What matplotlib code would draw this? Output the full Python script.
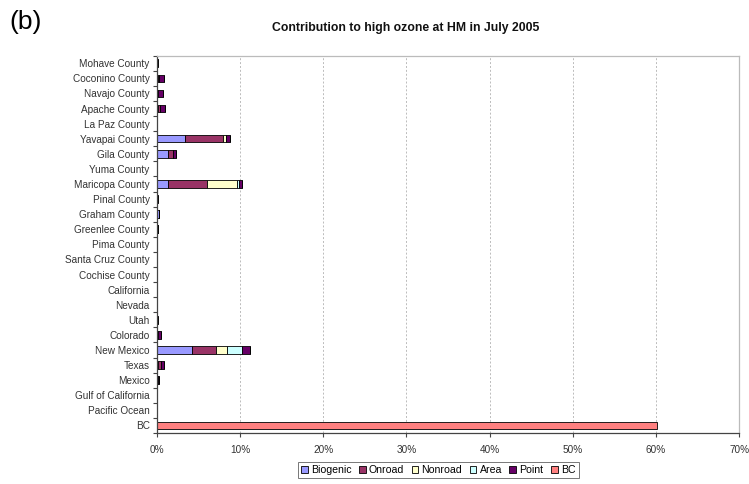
import matplotlib
matplotlib.use("Agg")
import matplotlib.pyplot as plt
import numpy as np

plt.rcParams['font.family'] = ['Liberation Sans', 'DejaVu Sans']

regions = ["Mohave County", "Coconino County", "Navajo County", "Apache County",
           "La Paz County", "Yavapai County", "Gila County", "Yuma County",
           "Maricopa County", "Pinal County", "Graham County", "Greenlee County",
           "Pima County", "Santa Cruz County", "Cochise County", "California",
           "Nevada", "Utah", "Colorado", "New Mexico", "Texas", "Mexico",
           "Gulf of California", "Pacific Ocean", "BC"]

# contributions in percent
biogenic = [0.0, 0.2, 0.1, 0.1, 0.0, 3.4, 1.4, 0.0, 1.4, 0.05, 0.3, 0.15,
            0.0, 0.0, 0.0, 0.0, 0.0, 0.05, 0.05, 4.3, 0.1, 0.2, 0.0, 0.0, 0.0]
onroad = [0.0, 0.1, 0.1, 0.3, 0.0, 4.6, 0.6, 0.0, 4.7, 0.0, 0.0, 0.0,
          0.0, 0.0, 0.0, 0.0, 0.0, 0.0, 0.1, 2.8, 0.4, 0.0, 0.0, 0.0, 0.0]
nonroad = [0.0, 0.0, 0.0, 0.0, 0.0, 0.3, 0.0, 0.0, 3.5, 0.0, 0.0, 0.0,
           0.0, 0.0, 0.0, 0.0, 0.0, 0.0, 0.0, 1.4, 0.0, 0.0, 0.0, 0.0, 0.0]
area = [0.0, 0.0, 0.0, 0.0, 0.0, 0.0, 0.0, 0.0, 0.3, 0.0, 0.0, 0.0,
        0.0, 0.0, 0.0, 0.0, 0.0, 0.0, 0.0, 1.7, 0.0, 0.0, 0.0, 0.0, 0.0]
point = [0.1, 0.6, 0.6, 0.6, 0.0, 0.5, 0.3, 0.0, 0.4, 0.05, 0.0, 0.05,
         0.0, 0.0, 0.0, 0.0, 0.0, 0.1, 0.35, 1.0, 0.4, 0.1, 0.0, 0.0, 0.0]
bc = [0.0] * 24 + [60.1]

series = [("Biogenic", biogenic, "#9999FF"),
          ("Onroad", onroad, "#993366"),
          ("Nonroad", nonroad, "#FFFFCC"),
          ("Area", area, "#CCFFFF"),
          ("Point", point, "#660066"),
          ("BC", bc, "#FF8080")]

xticks = [0, 10, 20, 30, 40, 50, 60, 70]
xticklabels = ["0%", "10%", "20%", "30%", "40%", "50%", "60%", "70%"]

fig = plt.figure(figsize=(7.49, 4.84), dpi=100)
ax = fig.add_axes([0.2092, 0.1054, 0.7779, 0.7795])

y = np.arange(len(regions))
left = np.zeros(len(regions))
for name, vals, color in series:
    vals = np.array(vals, dtype=float)
    ax.barh(y, vals, left=left, height=0.5, color=color, edgecolor="black",
            linewidth=0.6, label=name)
    left += vals

ax.set_ylim(len(regions) - 0.5, -0.5)
ax.set_xlim(0, 70)
ax.set_yticks(y)
ax.set_yticklabels(regions, fontsize=7.2, color="#333333")
ax.set_yticks(np.arange(-0.5, len(regions), 1.0), minor=True)
ax.tick_params(axis="y", which="major", length=0, pad=5)
ax.tick_params(axis="y", which="minor", length=3, width=0.8, color="#444444")
ax.set_xticks(xticks)
ax.set_xticklabels(xticklabels, fontsize=7.2, color="#333333")
ax.tick_params(axis="x", length=3, width=0.8, color="#444444", pad=6)

ax.grid(axis="x", linestyle=(0, (2, 2)), color="#BBBBBB", linewidth=0.7)
ax.set_axisbelow(True)
for side in ("top", "right"):
    ax.spines[side].set_color("#BBBBBB")
    ax.spines[side].set_linewidth(0.9)
for side in ("left", "bottom"):
    ax.spines[side].set_color("#444444")
    ax.spines[side].set_linewidth(0.9)

fig.text(0.541, 0.942, "Contribution to high ozone at HM in July 2005",
         ha="center", va="center", fontsize=8.8, fontweight="bold",
         color="#111111")
fig.text(0.012, 0.955, "(b)", ha="left", va="center", fontsize=19)

leg = fig.legend(loc="center", bbox_to_anchor=(0.585, 0.029), ncol=6,
                 fontsize=7.6, frameon=True, fancybox=False, handlelength=0.65,
                 handleheight=0.65, handletextpad=0.3, columnspacing=0.7,
                 borderpad=0.3, edgecolor="#555555")
leg.get_frame().set_linewidth(0.7)

fig.savefig("out.png", dpi=100)
